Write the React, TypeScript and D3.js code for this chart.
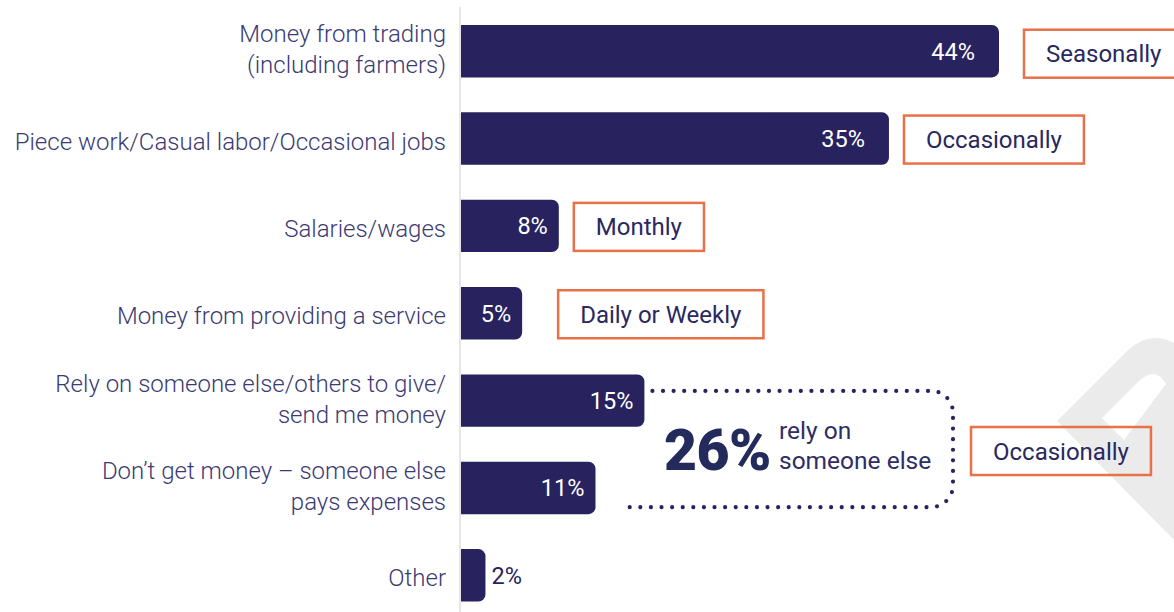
import React, { useEffect, useRef } from "react";
import * as d3 from "d3";

// ---- data ----
const categories: string[] = [
  "Money from trading\n(including farmers)",
  "Piece work/Casual labor/Occasional jobs",
  "Salaries/wages",
  "Money from providing a service",
  "Rely on someone else/others to give/\nsend me money",
  "Don’t get money – someone else\npays expenses",
  "Other",
];
const values: number[] = [44, 35, 8, 5, 15, 11, 2];
const frequency: string[] = ["Seasonally", "Occasionally", "Monthly", "Daily or Weekly", "", "", ""];
const groupRows: number[] = [4, 5];
const groupFrequency = "Occasionally";
const groupCaption: string[] = ["rely on", "someone else"];

// ---- layout / style ----
const W = 1174;
const H = 612;
const NAVY = "#28235f";
const LABEL = "#3b3a73";
const ORANGE = "#e8714a";
const FONT = "Roboto, 'Noto Sans', sans-serif";
const boxGap = [25, 15, 15, 36];

export default function App() {
  const ref = useRef<SVGSVGElement>(null);

  useEffect(() => {
    const svg = d3.select(ref.current);
    svg.selectAll("*").remove();

    const x = d3.scaleLinear().domain([0, 44]).range([461, 999]);
    const y = d3.scaleBand<string>().domain(categories).range([25, 601.5]).paddingInner(0.4).paddingOuter(0);
    const bw = y.bandwidth();

    // watermark
    svg
      .append("path")
      .attr(
        "d",
        "M1057,421 L1128,350 Q1150,330 1174,343 L1174,540 Z M1102,418 L1140,380 Q1156,366 1166,384 L1124,440 Z"
      )
      .attr("fill", "#ebebeb")
      .attr("fill-rule", "evenodd");

    // axis line
    svg
      .append("line")
      .attr("x1", 460)
      .attr("x2", 460)
      .attr("y1", 7)
      .attr("y2", H)
      .attr("stroke", "#dedede")
      .attr("stroke-width", 1.5);

    const r = 7;
    const barPath = (x0: number, y0: number, x1: number, h: number) =>
      `M${x0},${y0}H${x1 - r}A${r},${r} 0 0 1 ${x1},${y0 + r}V${y0 + h - r}A${r},${r} 0 0 1 ${x1 - r},${y0 + h}H${x0}Z`;

    // bars
    svg
      .append("g")
      .selectAll("path")
      .data(categories)
      .join("path")
      .attr("d", (c, i) => barPath(x(0), y(c)!, x(values[i]), bw))
      .attr("fill", NAVY);

    // category labels
    const lab = svg
      .append("g")
      .attr("font-family", FONT)
      .attr("font-weight", 300)
      .attr("font-size", 24)
      .attr("fill", LABEL)
      .attr("text-anchor", "end");
    categories.forEach((c) => {
      const lines = c.split("\n");
      const cy = y(c)! + bw / 2;
      lines.forEach((ln, j) => {
        const dy = lines.length === 1 ? 11 : j === 0 ? -9 : 22;
        lab.append("text").attr("x", 446).attr("y", cy + dy).text(ln);
      });
    });

    // value labels
    const vl = svg.append("g").attr("font-family", FONT).attr("font-weight", 400).attr("font-size", 23.5);
    categories.forEach((c, i) => {
      const v = values[i];
      const cy = y(c)! + bw / 2;
      if (v < 3) {
        vl.append("text").attr("x", x(v) + 6).attr("y", cy + 8.5).attr("fill", NAVY).text(`${v}%`);
      } else {
        const pad = v >= 30 ? 24 : 11;
        vl.append("text")
          .attr("x", x(v) - pad)
          .attr("y", cy + 8.5)
          .attr("text-anchor", "end")
          .attr("fill", "#fff")
          .text(`${v}%`);
      }
    });

    // frequency boxes
    const fb = svg.append("g").attr("font-family", FONT).attr("font-weight", 400).attr("font-size", 24);
    const drawBox = (label: string, bx: number, cy: number) => {
      const t = fb
        .append("text")
        .attr("x", bx + 22)
        .attr("y", cy + 8.5)
        .attr("fill", "#29285f")
        .text(label);
      const tw = (t.node() as SVGTextElement).getComputedTextLength();
      fb.insert("rect", "text")
        .attr("x", bx)
        .attr("y", cy - 24)
        .attr("width", tw + 44)
        .attr("height", 48)
        .attr("fill", "none")
        .attr("stroke", ORANGE)
        .attr("stroke-width", 2.5);
    };
    frequency.forEach((f, i) => {
      if (!f) return;
      const c = categories[i];
      const cy = y(c)! + bw / 2 + (i === 0 ? 2.5 : 1);
      drawBox(f, x(values[i]) + boxGap[i], cy);
    });

    // group bracket
    const cA = categories[groupRows[0]];
    const cB = categories[groupRows[1]];
    const topY = y(cA)! + 16.5;
    const botY = y(cB)! + bw - 7;
    const rightX = 953;
    const rr = 22;
    const topX = x(values[groupRows[0]]) + 8;
    const botX = x(values[groupRows[1]]) + 27;
    svg
      .append("path")
      .attr(
        "d",
        `M${topX},${topY}H${rightX - rr}A${rr},${rr} 0 0 1 ${rightX},${topY + rr}V${botY - rr}A${rr},${rr} 0 0 1 ${rightX - rr},${botY}H${botX}`
      )
      .attr("fill", "none")
      .attr("stroke", NAVY)
      .attr("stroke-width", 4.2)
      .attr("stroke-linecap", "round")
      .attr("stroke-dasharray", "0 10.6");

    const total = groupRows.reduce((s, i) => s + values[i], 0);
    svg
      .append("text")
      .attr("x", 664)
      .attr("y", 470)
      .attr("font-family", FONT)
      .attr("font-weight", 900)
      .attr("font-size", 57)
      .attr("fill", "#232a5c")
      .attr("letter-spacing", -0.5)
      .text(`${total}%`);
    groupCaption.forEach((g, j) => {
      svg
        .append("text")
        .attr("x", 779)
        .attr("y", 439 + j * 29.5)
        .attr("font-family", FONT)
        .attr("font-weight", 400)
        .attr("font-size", 24.5)
        .attr("fill", "#2e2d66")
        .text(g);
    });
    const midY = (topY + botY) / 2 + 2;
    drawBox(groupFrequency, rightX + 18, midY);
  }, []);

  return (
    <svg
      ref={ref}
      width={W}
      height={H}
      style={{ position: "absolute", left: 0, top: 0, background: "#fff" }}
    />
  );
}
